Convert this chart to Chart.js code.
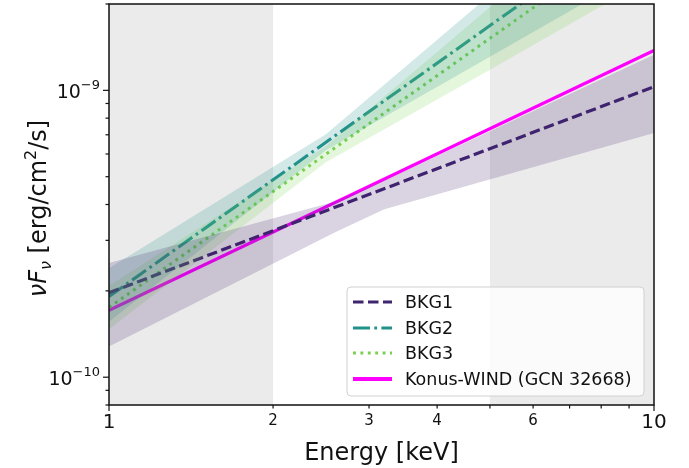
<!DOCTYPE html>
<html>
<head>
<meta charset="utf-8">
<script src="https://cdn.jsdelivr.net/npm/chart.js@4"></script>
<style>
  html, body { margin: 0; padding: 0; background: #fff; }
</style>
</head>
<body>
<canvas id="spectrum" width="689" height="468"></canvas>
<script>
// model lines (power laws, straight in log-log)
const lineEnergy = [1, 10];
const bkg1Flux = [1.97e-10, 1.03e-9];
const bkg2Flux = [1.91e-10, 4.29e-9];
const bkg3Flux = [1.75e-10, 3.85e-9];
const konusFlux = [1.71e-10, 1.377e-9];

// uncertainty bands
const bkg1BandEnergy = [1, 2.6, 3.2, 10];
const bkg1Upper = [2.5e-10, 4.1e-10, 4.85e-10, 1.33e-9];
const bkg1Lower = [1.28e-10, 3.2e-10, 3.85e-10, 7.1e-10];
const bkgBandEnergy = [1, 2.5, 5, 10];
const bkg2Upper = [2.4e-10, 7.03e-10, 2.15e-9, 6.6e-9];
const bkg2Lower = [1.56e-10, 6.18e-10, 1.31e-9, 2.78e-9];
const bkg3Upper = [2.08e-10, 6.38e-10, 1.95e-9, 5.92e-9];
const bkg3Lower = [1.47e-10, 5.61e-10, 1.18e-9, 2.5e-9];

// shaded energy ranges
const shadedRanges = [[1, 2], [5, 10]];

// ticks
const xMajorTicks = [1, 10];
const xMajorLabels = ['1', '10'];
const xMinorTicks = [2, 3, 4, 5, 6, 7, 8, 9];
const xMinorLabelValues = [2, 3, 4, 6];
const xMinorLabels = ['2', '3', '4', '6'];
const yMajorTicks = [1e-10, 1e-9];
const yMajorExponents = ['\u221210', '\u22129'];
const yMinorTicks = [8e-11, 9e-11, 2e-10, 3e-10, 4e-10, 5e-10, 6e-10, 7e-10, 8e-10, 9e-10, 2e-9];

const seriesLabels = ['BKG1', 'BKG2', 'BKG3', 'Konus-WIND (GCN 32668)'];
const colors = ['#3f2470', '#21918c', '#7ad151', '#ff00ff'];
const dashes = [[10.5, 4.5], [17, 4.3, 2.8, 4.3], [2.9, 4.5], []];
const widths = [3.2, 3.1, 3, 3.2];

const FONT = '"DejaVu Sans", sans-serif';

function pts(xs, ys) {
  return xs.map((v, i) => ({ x: v, y: ys[i] }));
}

function bandPair(xs, up, lo, color) {
  return [
    { data: pts(xs, up), borderWidth: 0, pointRadius: 0, backgroundColor: color, fill: '+1' },
    { data: pts(xs, lo), borderWidth: 0, pointRadius: 0, backgroundColor: color, fill: false }
  ];
}

function lineSet(i, ys) {
  return {
    data: pts(lineEnergy, ys),
    borderColor: colors[i],
    borderWidth: widths[i],
    borderDash: dashes[i],
    borderCapStyle: 'butt',
    pointRadius: 0,
    fill: false
  };
}

const datasets = [
  ...bandPair(bkg1BandEnergy, bkg1Upper, bkg1Lower, 'rgba(63,36,112,0.2)'),
  ...bandPair(bkgBandEnergy, bkg2Upper, bkg2Lower, 'rgba(33,145,140,0.2)'),
  ...bandPair(bkgBandEnergy, bkg3Upper, bkg3Lower, 'rgba(122,209,81,0.2)'),
  lineSet(0, bkg1Flux),
  lineSet(1, bkg2Flux),
  lineSet(2, bkg3Flux),
  lineSet(3, konusFlux)
];

// draw text made of pieces [text, font, dy]
function piecesWidth(ctx, pieces) {
  let w = 0;
  pieces.forEach(p => { ctx.font = p[1]; w += ctx.measureText(p[0]).width; });
  return w;
}
function drawPieces(ctx, pieces, x, y) {
  let cx = x;
  pieces.forEach(p => {
    ctx.font = p[1];
    ctx.fillText(p[0], cx, y + (p[2] || 0));
    cx += ctx.measureText(p[0]).width;
  });
}

const decor = {
  id: 'decor',
  beforeDatasetsDraw(chart) {
    const { ctx, chartArea: a, scales: { x } } = chart;
    ctx.save();
    ctx.fillStyle = 'rgba(128,128,128,0.16)';
    shadedRanges.forEach(([lo, hi]) => {
      const x0 = x.getPixelForValue(lo), x1 = x.getPixelForValue(hi);
      ctx.fillRect(x0, a.top, x1 - x0, a.bottom - a.top);
    });
    ctx.restore();
  },
  afterDraw(chart) {
    const { ctx, chartArea: a, scales: { x, y } } = chart;
    ctx.save();
    ctx.strokeStyle = '#111';
    ctx.fillStyle = '#111';

    // frame
    ctx.lineWidth = 1.5;
    ctx.strokeRect(a.left, a.top, a.right - a.left, a.bottom - a.top);

    // tick marks
    ctx.lineWidth = 1.2;
    const tick = (x0, y0, x1, y1) => { ctx.beginPath(); ctx.moveTo(x0, y0); ctx.lineTo(x1, y1); ctx.stroke(); };
    xMajorTicks.forEach(v => { const px = x.getPixelForValue(v); tick(px, a.bottom, px, a.bottom + 6); });
    xMinorTicks.forEach(v => { const px = x.getPixelForValue(v); tick(px, a.bottom, px, a.bottom + 3.5); });
    yMajorTicks.forEach(v => { const py = y.getPixelForValue(v); tick(a.left, py, a.left - 6, py); });
    yMinorTicks.forEach(v => { const py = y.getPixelForValue(v); tick(a.left, py, a.left - 3.5, py); });

    // x tick labels
    ctx.textAlign = 'center';
    ctx.textBaseline = 'top';
    ctx.font = '20px ' + FONT;
    xMajorTicks.forEach((v, i) => ctx.fillText(xMajorLabels[i], x.getPixelForValue(v), a.bottom + 8));
    ctx.font = '15px ' + FONT;
    xMinorLabelValues.forEach((v, i) => ctx.fillText(xMinorLabels[i], x.getPixelForValue(v), a.bottom + 9));

    // y tick labels 10^n
    ctx.textAlign = 'left';
    ctx.textBaseline = 'alphabetic';
    yMajorTicks.forEach((v, i) => {
      const py = y.getPixelForValue(v);
      const pieces = [['10', '19px ' + FONT, 0], [yMajorExponents[i], '13px ' + FONT, -9]];
      const w = piecesWidth(ctx, pieces);
      drawPieces(ctx, pieces, a.left - 9 - w, py + 8);
    });

    // x title
    ctx.textAlign = 'center';
    ctx.font = '24px ' + FONT;
    ctx.fillText('Energy [keV]', (a.left + a.right) / 2, 460);

    // y title
    ctx.save();
    ctx.translate(46, (a.top + a.bottom) / 2 + 4);
    ctx.rotate(-Math.PI / 2);
    ctx.textAlign = 'left';
    const yt = [
      ['\u03bdF', 'italic 24px ' + FONT, 0],
      ['\u03bd', 'italic 16px ' + FONT, 5],
      [' [erg/cm', '24px ' + FONT, 0],
      ['2', '16px ' + FONT, -10],
      ['/s]', '24px ' + FONT, 0]
    ];
    drawPieces(ctx, yt, -piecesWidth(ctx, yt) / 2, 0);
    ctx.restore();

    // legend
    const bx = 347, by = 287, bw = 297, bh = 109;
    ctx.beginPath();
    ctx.roundRect(bx, by, bw, bh, 4);
    ctx.fillStyle = 'rgba(255,255,255,0.8)';
    ctx.fill();
    ctx.strokeStyle = '#d0d0d0';
    ctx.lineWidth = 1;
    ctx.stroke();
    const rowY = [302, 328, 353, 379];
    ctx.textAlign = 'left';
    ctx.textBaseline = 'middle';
    ctx.font = '17.5px ' + FONT;
    seriesLabels.forEach((lab, i) => {
      ctx.strokeStyle = colors[i];
      ctx.lineWidth = widths[i] + (i === 3 ? 0.8 : 0);
      ctx.setLineDash(dashes[i]);
      ctx.lineCap = 'butt';
      ctx.beginPath();
      ctx.moveTo(353, rowY[i]);
      ctx.lineTo(392, rowY[i]);
      ctx.stroke();
      ctx.setLineDash([]);
      ctx.fillStyle = '#111';
      ctx.fillText(lab, 405, rowY[i] + 1);
    });
    ctx.restore();
  }
};

new Chart(document.getElementById('spectrum').getContext('2d'), {
  type: 'line',
  data: { datasets },
  options: {
    responsive: false,
    animation: false,
    layout: { padding: { left: 109, top: 4, right: 35, bottom: 63 } },
    plugins: { legend: { display: false }, tooltip: { enabled: false } },
    elements: { line: { tension: 0 } },
    scales: {
      x: { type: 'logarithmic', min: 1, max: 10, display: false },
      y: { type: 'logarithmic', min: 8e-11, max: 2e-9, display: false }
    }
  },
  plugins: [decor]
});
</script>
</body>
</html>
